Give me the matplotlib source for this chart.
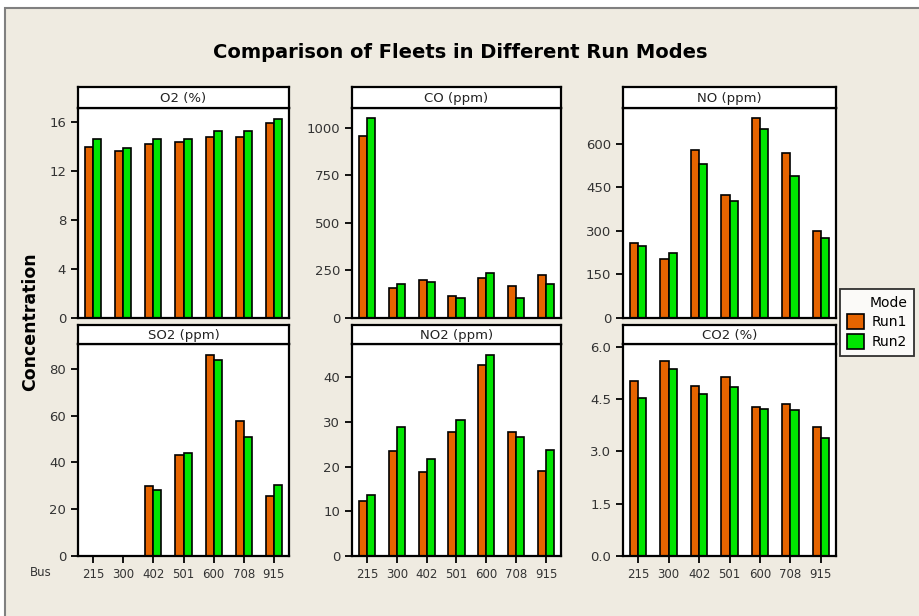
import matplotlib.pyplot as plt
import matplotlib.patches as mpatches
import numpy as np

buses = ["215", "300", "402", "501", "600", "708", "915"]

o2_run1 = [13.95, 13.6, 14.2, 14.35, 14.75, 14.75, 15.9]
o2_run2 = [14.6, 13.85, 14.6, 14.6, 15.25, 15.25, 16.25]
co_run1 = [960, 160, 198, 114, 212, 170, 228]
co_run2 = [1053, 181, 191, 107, 237, 107, 181]
no_run1 = [257, 205, 580, 425, 690, 569, 301]
no_run2 = [248, 223, 531, 405, 651, 491, 275]
so2_run1 = [np.nan, np.nan, 29.8, 43.0, 85.9, 57.8, 25.5]
so2_run2 = [np.nan, np.nan, 28.2, 44.2, 83.9, 51.0, 30.4]
no2_run1 = [12.3, 23.4, 18.8, 27.8, 42.8, 27.7, 19.1]
no2_run2 = [13.7, 28.9, 21.6, 30.3, 45.0, 26.7, 23.7]
co2_run1 = [5.03, 5.58, 4.88, 5.12, 4.28, 4.35, 3.70]
co2_run2 = [4.52, 5.37, 4.66, 4.85, 4.23, 4.19, 3.37]

panels = [
    ("O2 (%)", o2_run1, o2_run2, [0, 4, 8, 12, 16], 17.15, "{:g}"),
    ("CO (ppm)", co_run1, co_run2, [0, 250, 500, 750, 1000], 1105, "{:g}"),
    ("NO (ppm)", no_run1, no_run2, [0, 150, 300, 450, 600], 724, "{:g}"),
    ("SO2 (ppm)", so2_run1, so2_run2, [0, 20, 40, 60, 80], 90.6, "{:g}"),
    ("NO2 (ppm)", no2_run1, no2_run2, [0, 10, 20, 30, 40], 47.4, "{:g}"),
    ("CO2 (%)", co2_run1, co2_run2, [0, 1.5, 3.0, 4.5, 6.0], 6.08, "{:.1f}"),
]

orange = "#E66400"
green = "#00E600"
bg = "#EFEBE1"

W, H = 920, 616
fig = plt.figure(figsize=(9.2, 6.16), dpi=100, facecolor="white")

# beige panel with grey border (bottom/right edges run off the image)
fig.patches.append(mpatches.Rectangle((5 / W, -0.05), 1.1, 1 - 8 / H + 0.05,
                                      transform=fig.transFigure, facecolor=bg,
                                      edgecolor="#808080", linewidth=1.5, zorder=-10))

cols = [(78, 289), (352, 561), (623, 836)]
rows = [(108, 318, 87), (344, 556, 325)]  # plot top, plot bottom, strip top

x = np.arange(len(buses))
bw = 0.27

for i, (name, r1, r2, yt, ymax, fmt) in enumerate(panels):
    row, col = divmod(i, 3)
    x0, x1 = cols[col]
    ptop, pbot, stop = rows[row]
    ax = fig.add_axes([x0 / W, 1 - pbot / H, (x1 - x0) / W, (pbot - ptop) / H])
    ax.bar(x - bw / 2, r1, bw, color=orange, edgecolor="black", linewidth=1.2)
    ax.bar(x + bw / 2, r2, bw, color=green, edgecolor="black", linewidth=1.2)
    ax.set_xlim(-0.5, 6.5)
    ax.set_ylim(0, ymax)
    ax.set_yticks(yt)
    ax.set_yticklabels([fmt.format(v) for v in yt])
    ax.set_xticks(x)
    if row == 1:
        ax.set_xticklabels(buses, fontsize=8.5, color="#333333")
        ax.tick_params(axis="x", length=5, width=1.3)
    else:
        ax.set_xticklabels([])
        ax.tick_params(axis="x", length=0)
    ax.tick_params(axis="y", length=5, width=1.3, labelsize=9.5, labelcolor="#333333")
    for s in ax.spines.values():
        s.set_linewidth(1.6)

    # strip header
    sax = fig.add_axes([x0 / W, 1 - ptop / H, (x1 - x0) / W, (ptop - stop) / H])
    sax.set_xticks([])
    sax.set_yticks([])
    sax.set_facecolor("white")
    for s in sax.spines.values():
        s.set_linewidth(1.6)
    sax.text(0.5, 0.45, name, ha="center", va="center", fontsize=9.5, color="#222222",
             transform=sax.transAxes)

fig.text(0.5, 1 - 52 / H, "Comparison of Fleets in Different Run Modes",
         ha="center", va="center", fontsize=14, fontweight="bold")
fig.text(30 / W, 1 - 322 / H, "Concentration", rotation=90, ha="center", va="center",
         fontsize=12.5, fontweight="bold")
fig.text(30 / W, 1 - 573 / H, "Bus", ha="left", va="center", fontsize=8.5, color="#333333")

handles = [mpatches.Patch(facecolor=orange, edgecolor="black", linewidth=1.2, label="Run1"),
           mpatches.Patch(facecolor=green, edgecolor="black", linewidth=1.2, label="Run2")]
leg = fig.legend(handles=handles, title="Mode", loc="upper left",
                 bbox_to_anchor=(840 / W, 1 - 289 / H), borderaxespad=0,
                 fontsize=10, title_fontsize=10,
                 frameon=True, fancybox=False, edgecolor="black", handlelength=1.2,
                 handleheight=1.3, borderpad=0.5, labelspacing=0.3, handletextpad=0.6)
leg.get_frame().set_linewidth(1.3)
leg._legend_box.align = "right"

fig.savefig("out.png", dpi=100, facecolor=fig.get_facecolor())
